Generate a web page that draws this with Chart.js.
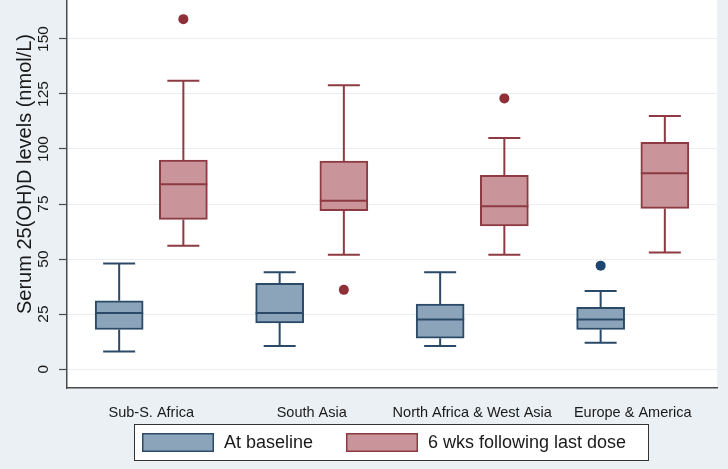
<!DOCTYPE html>
<html>
<head>
<meta charset="utf-8">
<title>Serum 25(OH)D box plot</title>
<script src="https://cdn.jsdelivr.net/npm/chart.js@4.4.1/dist/chart.umd.min.js"></script>
<style>
  body { margin: 0; background: #eaf0f4; }
  #wrap { width: 728px; height: 469px; position: relative; }
</style>
</head>
<body>
<div id="wrap"><canvas id="boxChart"></canvas></div>
<script>
// regions along the x axis
var categories = ['Sub-S. Africa', 'South Asia', 'North Africa & West Asia', 'Europe & America'];
var yTicks = [0, 25, 50, 75, 100, 125, 150];

// at baseline
var baseMin = [8, 10.5, 10.5, 12];
var baseQ1  = [18, 21, 14, 18];
var baseMed = [25.5, 25.5, 22.5, 22.5];
var baseQ3  = [31, 39, 29.5, 28];
var baseMax = [48, 44, 44, 35.5];
var baseOut = [[], [], [], [47]];

// 6 wks following last dose
var wkMin = [56, 52, 52, 53];
var wkQ1  = [68, 72, 65, 73];
var wkMed = [84, 76.5, 74, 89];
var wkQ3  = [95, 94.5, 88, 103];
var wkMax = [131, 129, 105, 115];
var wkOut = [[159], [36], [123], []];

var seriesNames = ['At baseline', '6 wks following last dose'];

// look
var FONT = "'Liberation Sans', Arial, sans-serif";
var blueFill = '#8ca4ba', blueLine = '#2a4a68', blueDot = '#1d4670';
var redFill = '#c9959b', redLine = '#8e3a42', redDot = '#8f2f37';
var shift = 0.2;      // offset of each box from the region centre
var boxW = 48, capHalf = 16;

var groups = [
  { name: seriesNames[0], min: baseMin, q1: baseQ1, med: baseMed, q3: baseQ3, max: baseMax, out: baseOut, off: -shift, fill: blueFill, line: blueLine, dot: blueDot },
  { name: seriesNames[1], min: wkMin, q1: wkQ1, med: wkMed, q3: wkQ3, max: wkMax, out: wkOut, off: shift, fill: redFill, line: redLine, dot: redDot }
];

var datasets = [];
groups.forEach(function (g) {
  datasets.push({
    type: 'bar',
    label: g.name,
    data: categories.map(function (c, i) { return { x: i + 1 + g.off, y: [g.q1[i], g.q3[i]] }; }),
    backgroundColor: g.fill,
    borderColor: g.line,
    borderWidth: 2,
    borderSkipped: false,
    barThickness: boxW,
    grouped: false
  });
});
groups.forEach(function (g) {
  var pts = [];
  g.out.forEach(function (list, i) {
    list.forEach(function (v) { pts.push({ x: i + 1 + g.off, y: v }); });
  });
  datasets.push({
    type: 'scatter',
    label: g.name + ' outliers',
    data: pts,
    pointRadius: 5,
    pointBackgroundColor: g.dot,
    pointBorderWidth: 0
  });
});

var boxParts = {
  id: 'boxParts',
  beforeDraw: function (chart) {
    var ctx = chart.ctx, a = chart.chartArea;
    ctx.save();
    ctx.fillStyle = '#eaf0f4';
    ctx.fillRect(0, 0, chart.width, chart.height);
    ctx.fillStyle = '#ffffff';
    ctx.fillRect(a.left, a.top, a.right - a.left, a.bottom - a.top);
    ctx.restore();
  },
  afterDatasetsDraw: function (chart) {
    var ctx = chart.ctx, xs = chart.scales.x, ys = chart.scales.y;
    ctx.save();
    ctx.lineWidth = 2;
    groups.forEach(function (g) {
      ctx.strokeStyle = g.line;
      categories.forEach(function (c, i) {
        var cx = xs.getPixelForValue(i + 1 + g.off);
        var yMax = ys.getPixelForValue(g.max[i]), yQ3 = ys.getPixelForValue(g.q3[i]);
        var yMin = ys.getPixelForValue(g.min[i]), yQ1 = ys.getPixelForValue(g.q1[i]);
        var yMed = ys.getPixelForValue(g.med[i]);
        ctx.beginPath();
        ctx.moveTo(cx, yQ3); ctx.lineTo(cx, yMax);
        ctx.moveTo(cx - capHalf, yMax); ctx.lineTo(cx + capHalf, yMax);
        ctx.moveTo(cx, yQ1); ctx.lineTo(cx, yMin);
        ctx.moveTo(cx - capHalf, yMin); ctx.lineTo(cx + capHalf, yMin);
        ctx.moveTo(cx - boxW / 2, yMed); ctx.lineTo(cx + boxW / 2, yMed);
        ctx.stroke();
      });
    });
    ctx.restore();
  },
  afterDraw: function (chart) {
    var ctx = chart.ctx, ys = chart.scales.y;
    ctx.save();
    ctx.fillStyle = '#1a1a1a';
    // rotated y tick labels
    ctx.font = '15.5px ' + FONT;
    ctx.textAlign = 'center';
    ctx.textBaseline = 'middle';
    ys.ticks.forEach(function (t) {
      ctx.save();
      ctx.translate(44, ys.getPixelForValue(t.value));
      ctx.rotate(-Math.PI / 2);
      ctx.fillText(String(t.value), 0, 0);
      ctx.restore();
    });
    // y title
    ctx.save();
    ctx.font = '20px ' + FONT;
    ctx.translate(25, 174);
    ctx.rotate(-Math.PI / 2);
    ctx.fillText('Serum 25(OH)D levels (nmol/L)', 0, 0);
    ctx.restore();

    // legend
    ctx.fillStyle = '#ffffff';
    ctx.fillRect(134, 424, 514, 36);
    ctx.strokeStyle = '#333';
    ctx.lineWidth = 1;
    ctx.strokeRect(134.5, 424.5, 514, 36);
    var sw = [142, 346];
    groups.forEach(function (g, k) {
      ctx.fillStyle = g.fill;
      ctx.fillRect(sw[k], 433, 72, 19);
      ctx.strokeStyle = g.line;
      ctx.lineWidth = 1.5;
      ctx.strokeRect(sw[k] + 0.75, 433.75, 70.5, 17.5);
      ctx.fillStyle = '#1a1a1a';
      ctx.font = '18px ' + FONT;
      ctx.textAlign = 'left';
      ctx.textBaseline = 'middle';
      ctx.fillText(g.name, sw[k] + 82, 443);
    });
    ctx.restore();
  }
};

new Chart(document.getElementById('boxChart'), {
  type: 'bar',
  data: { datasets: datasets },
  options: {
    responsive: true,
    maintainAspectRatio: false,
    animation: false,
    layout: { autoPadding: false, padding: { left: 0, right: 11, top: 0, bottom: 0 } },
    plugins: { legend: { display: false }, tooltip: { enabled: false } },
    scales: {
      x: {
        type: 'linear',
        offset: false,
        min: 0.475,
        max: 4.525,
        afterBuildTicks: function (s) { s.ticks = categories.map(function (c, i) { return { value: i + 1 }; }); },
        afterFit: function (s) { s.height = 81; },
        ticks: {
          padding: 8,
          maxRotation: 0,
          color: '#1a1a1a',
          font: { family: FONT, size: 14.5 },
          callback: function (v, i) { return categories[i]; }
        },
        grid: { display: false },
        border: { color: '#4a4a4a', width: 1.5 }
      },
      y: {
        min: -8.6,
        max: 167.7,
        afterBuildTicks: function (s) { s.ticks = yTicks.map(function (v) { return { value: v }; }); },
        afterFit: function (s) { s.width = 67; },
        ticks: { display: false },
        grid: { color: '#e8eef2', lineWidth: 1, tickLength: 8, tickColor: '#4a4a4a', tickWidth: 1.2 },
        border: { color: '#4a4a4a', width: 1.5 }
      }
    }
  },
  plugins: [boxParts]
});
</script>
</body>
</html>
